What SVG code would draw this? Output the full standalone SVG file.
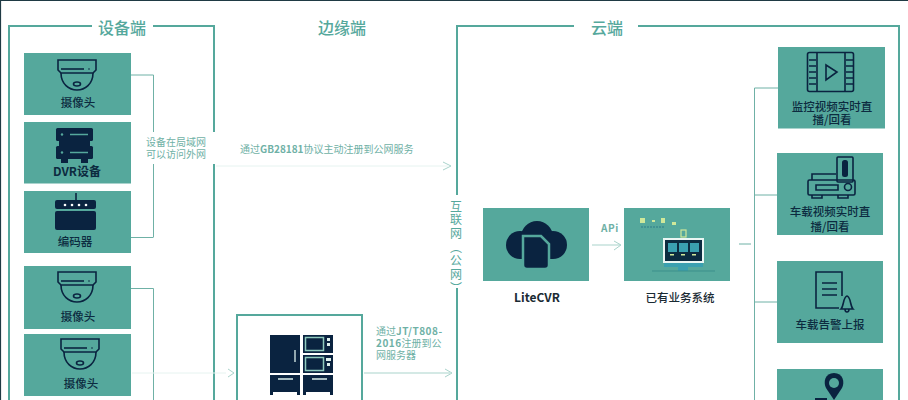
<svg xmlns="http://www.w3.org/2000/svg" width="908" height="400" viewBox="0 0 908 400">
<defs>
<style>
text{font-family:"Noto Sans CJK SC","Liberation Sans",sans-serif}
.box{fill:#55a89c}
.frame{fill:none;stroke:#55a89c;stroke-width:2}
.thin{fill:none;stroke:#6fb1a6;stroke-width:1}
.faint{fill:none;stroke:#e6f3f0;stroke-width:1}
.head{fill:none;stroke:#a9d3cb;stroke-width:1}
.title{font-size:16px;font-weight:500;fill:#55a89c;text-anchor:middle}
.lab{font-size:11.500px;font-weight:500;fill:#0c2b40;text-anchor:middle}
.note{font-size:10px;fill:#6fb1a6}
.nm{text-anchor:middle}
.cap{font-size:12px;font-weight:700;fill:#1a2a33;text-anchor:middle}
.ic{fill:none;stroke:#0a2340;stroke-width:1.600}
.fi{fill:#0a2340}
.li{fill:#55a89c}
.ib{fill:none;stroke:#55a89c;stroke-width:1.600}
.lt{stroke:#dcefeb;stroke-width:1.300;fill:none}
.yl{fill:#cfe89a}
.bl{fill:#3aa0b0}
</style>
<g id="cam">
<path class="ic" d="M-19 -13H19V-3L16 0H-16L-19 -3Z"/>
<path class="ic" d="M-16 0C-16 11 -8 17 0 17C8 17 16 11 16 0"/>
<ellipse class="ic" cx="0" cy="11" rx="3.500" ry="2" stroke-width="1.200"/>
<circle class="fi" cx="12" cy="-4" r="0.800"/>
<path class="ic" d="M-16 -4H7" stroke-width="1"/>
</g>
</defs>
<rect width="908" height="400" fill="#fff"/>
<path d="M0 .5H908M.5 0V400" fill="none" stroke="#1f3a44" stroke-width="1.200"/>

<g id="connectors">
<path class="frame" d="M92 26H9V400M153 26H214V132M214 164V400"/>
<path class="frame" d="M574 26H457V195M457 288V400M638 26H899V400"/>
<path class="thin" d="M131 75H153.500V132M153.500 164V237M131 237.500H153.500"/>
<path class="thin" d="M131 288.500H153.500V400"/>
<path class="faint" d="M132 373H226"/>
<path class="head" d="M228 369L234 373L228 377"/>
<path class="faint" d="M216 166H448"/>
<path class="head" d="M443 162L451 166L443 170"/>
<path class="head" d="M364 373H450"/>
<path class="head" d="M445 369L452 373L445 377"/>
<path class="head" d="M592 245H620"/>
<path class="head" d="M614 241L621 245L614 250"/>
<path class="thin" d="M739 244H751"/>
<path class="thin" d="M778 88H754.500V400M754 195H778M754 302H778"/>
</g>

<g id="title-device"><text class="title" x="122" y="34">设备端</text></g>
<g id="title-edge"><text class="title" x="342" y="34">边缘端</text></g>
<g id="title-cloud"><text class="title" x="607" y="34">云端</text></g>

<g id="cam1">
<rect class="box" x="24" y="53" width="107" height="62"/>
<use href="#cam" x="77" y="73"/>
<text class="lab" x="78" y="107">摄像头</text>
</g>
<g id="dvr">
<rect class="box" x="24" y="122" width="107" height="61.500"/>
<rect class="fi" x="56" y="128" width="37" height="13" rx="1.500"/>
<rect class="fi" x="59" y="141" width="31" height="5"/>
<rect class="fi" x="56" y="146" width="37" height="13" rx="1.500"/>
<rect class="fi" x="61" y="159" width="7" height="4"/>
<rect class="fi" x="81" y="159" width="7" height="4"/>
<path class="ib" d="M70 134.500H88M70 152.500H88" stroke-width="2"/>
<circle class="li" cx="62" cy="134.500" r="1.200"/>
<circle class="li" cx="62" cy="152.500" r="1.200"/>
<text x="77" y="176" class="lab" style="font-weight:700;font-size:12px">DVR设备</text>
</g>
<g id="encoder">
<rect class="box" x="24" y="191" width="107" height="62"/>
<path class="ic" d="M76 193V200"/>
<rect class="fi" x="55" y="200" width="41" height="9" rx="2"/>
<rect class="fi" x="55" y="211" width="41" height="19" rx="2"/>
<circle cx="65" cy="205" r="1.300" fill="#fff"/><circle cx="72" cy="205" r="1.300" fill="#fff"/><circle cx="79" cy="205" r="1.300" fill="#fff"/><circle cx="86" cy="205" r="1.300" fill="#fff"/>
<text class="lab" x="75" y="246">编码器</text>
</g>
<g id="cam2">
<rect class="box" x="24" y="266" width="107" height="63"/>
<use href="#cam" x="77" y="285"/>
<text class="lab" x="78" y="321">摄像头</text>
</g>
<g id="cam3">
<rect class="box" x="24" y="334" width="107" height="62"/>
<use href="#cam" x="80" y="352"/>
<text class="lab" x="81" y="388">摄像头</text>
</g>

<g id="note-lan">
<text class="note nm"><tspan x="176" y="146">设备在局域网</tspan><tspan x="176" y="158">可以访问外网</tspan></text>
</g>
<g id="note-gb"><text class="note" x="240" y="153">通过<tspan font-weight="700">GB28181</tspan>协议主动注册到公网服务</text></g>
<g id="note-jt">
<text class="note"><tspan x="376" y="335">通过</tspan><tspan font-weight="700" letter-spacing=".5">JT/T808-</tspan><tspan x="376" y="347" font-weight="700" letter-spacing=".5">2016</tspan><tspan>注册到公</tspan><tspan x="376" y="359">网服务器</tspan></text>
</g>
<g id="internet">
<text x="456" y="200" style="font-size:12px;fill:#55a89c;writing-mode:vertical-rl;letter-spacing:1.700px" dominant-baseline="central">互联网（公网）</text>
</g>

<g id="edge-device">
<rect class="frame" x="237" y="315" width="125" height="100"/>
<rect class="fi" x="270" y="335" width="30" height="38"/>
<rect class="fi" x="303" y="335" width="30" height="18"/>
<rect class="fi" x="303" y="355" width="30" height="18"/>
<path class="fi" d="M270 375H300V395H297V392H273V395H270Z"/>
<path class="fi" d="M303 375H333V395H330V392H306V395H303Z"/>
<rect x="305.500" y="337.500" width="18" height="13" fill="none" stroke="#8fc9bd" stroke-width="1.500"/>
<rect x="305.500" y="357.500" width="18" height="13" fill="none" stroke="#8fc9bd" stroke-width="1.500"/>
<path class="lt" d="M295 350V362M278 379H293M312 379H327"/>
<rect x="327" y="338" width="3" height="3" fill="#dcefeb"/><rect x="327" y="343" width="3" height="3" fill="#dcefeb"/>
<rect x="326" y="358" width="5" height="3" fill="#dcefeb"/><rect x="327" y="363" width="3" height="3" fill="#dcefeb"/>
</g>

<g id="litecvr">
<rect class="box" x="483" y="208" width="106" height="73"/>
<circle class="fi" cx="520" cy="245" r="14"/>
<circle class="fi" cx="537" cy="237" r="16"/>
<circle class="fi" cx="553" cy="245" r="14"/>
<rect class="fi" x="520" y="240" width="33" height="19"/>
<path class="fi" d="M523 236H541L549 244V265Q549 269 545 269H527Q523 269 523 265Z" stroke="#55a89c" stroke-width="2.500"/>
<text class="cap" x="537" y="302">LiteCVR</text>
</g>
<g id="api-label"><text class="note" x="601" y="232" font-weight="700" letter-spacing=".6">APi</text></g>
<g id="biz">
<rect class="box" x="624" y="208" width="106" height="73"/>
<path class="yl" d="M640 218h5v5h-5zM652 220h3v2h-3zM661 218h4v5h-4zM672 222h4v3h-4z"/>
<path d="M641 227H665" stroke="#2e7c8a" stroke-width="1" stroke-dasharray="2 1"/>
<rect x="681" y="230" width="5" height="7" fill="none" stroke="#cfe89a" stroke-width="1.200"/>
<rect x="664" y="239" width="39" height="23" fill="#0c2b40" stroke="#eaf6f3" stroke-width="2"/>
<rect class="bl" x="668" y="243" width="9" height="9"/>
<rect class="bl" x="679" y="243" width="9" height="9"/>
<rect class="bl" x="690" y="243" width="9" height="9"/>
<rect class="yl" x="670" y="254" width="4" height="1.500"/><rect class="yl" x="681" y="254" width="4" height="1.500"/><rect class="yl" x="692" y="254" width="4" height="1.500"/>
<rect class="bl" x="664" y="263" width="39" height="4"/>
<rect class="bl" x="678" y="267" width="10" height="4"/>
<path d="M652 271H715" stroke="#3d8f8b" stroke-width="1"/>
<text class="cap" x="680" y="302" style="font-weight:500;font-size:11.500px">已有业务系统</text>
</g>

<g id="out1">
<rect class="box" x="778" y="47" width="107" height="81.500"/>
<rect x="807.500" y="52.500" width="46" height="39" rx="2" class="ic" stroke-width="2"/>
<path class="ic" d="M817 53V91M845 53V91M809 60H816M809 66H816M809 72H816M809 78H816M809 84H816M846 60H853M846 66H853M846 72H853M846 78H853M846 84H853M826 65L837 72L826 80Z"/>
<text class="lab"><tspan x="832" y="111">监控视频实时直</tspan><tspan x="832" y="124">播/回看</tspan></text>
</g>
<g id="out2">
<rect class="box" x="777" y="153" width="106" height="82"/>
<rect class="ic" x="837" y="157" width="16" height="25" rx="1"/>
<rect class="fi" x="842" y="160" width="6" height="17" rx="2.500"/>
<path class="ic" d="M812 180V174H836"/>
<rect class="ic" x="808" y="180" width="47" height="15" rx="1.500"/>
<path class="ic" d="M812 195V198H822V195M838 195V198H848V195M816 185H838V190H816Z" stroke-width="1.300"/>
<circle class="ic" cx="848" cy="187" r="3.500" stroke-width="1.300"/>
<text class="lab"><tspan x="830" y="216">车载视频实时直</tspan><tspan x="830" y="231">播/回看</tspan></text>
</g>
<g id="out3">
<rect class="box" x="777" y="261" width="106" height="82"/>
<path class="ic" d="M839 308H816V272H842V296" stroke-width="2.500"/>
<path class="ic" d="M822 283H837M822 289H837M822 295H837" stroke-width="2.500"/>
<path class="ic" d="M841 309C844 306 843 297 847 296C851 297 850 306 853 309ZM845 309C845 313 849 313 849 309"/>
<text class="lab" x="830" y="329">车载告警上报</text>
</g>
<g id="out4">
<rect class="box" x="777" y="369" width="106" height="40"/>
<path class="fi" d="M834 373C825 373 823 382 826 388L834 400L842 388C845 382 843 373 834 373Z"/>
<circle class="li" cx="834" cy="383" r="5"/>
<rect class="fi" x="815" y="398" width="12" height="3"/>
</g>
</svg>
